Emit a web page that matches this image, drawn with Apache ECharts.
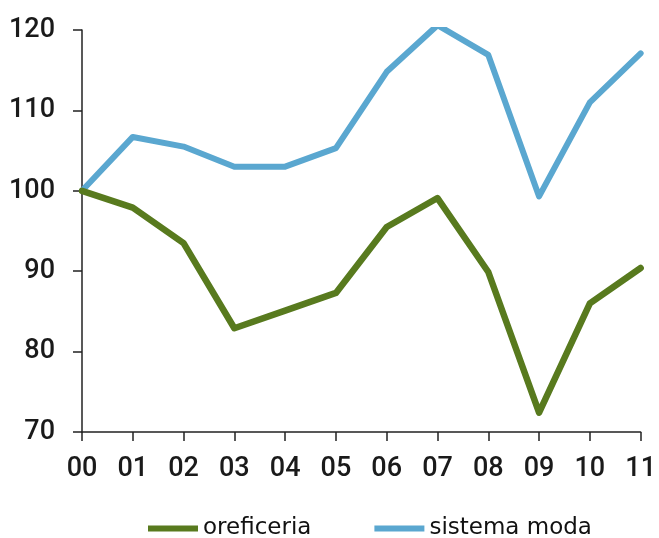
<!DOCTYPE html>
<html>
<head>
<meta charset="utf-8">
<script src="https://cdn.jsdelivr.net/npm/echarts@6/dist/echarts.min.js"></script>
<style>
  html, body { margin: 0; padding: 0; background: #ffffff; overflow: hidden; }
  #chart { width: 659px; height: 538px; }
</style>
</head>
<body>
<div id="chart"></div>
<script>
// Years (2000–2011) shown as two-digit labels
const years = ['00', '01', '02', '03', '04', '05', '06', '07', '08', '09', '10', '11'];

// Index values, 2000 = 100
const oreficeria = [100, 97.9, 93.5, 82.9, 85.1, 87.3, 95.5, 99.1, 89.9, 72.4, 86.0, 90.4];
const sistemaModa = [100, 106.7, 105.5, 103.0, 103.0, 105.3, 114.8, 120.6, 116.9, 99.3, 111.0, 117.1];

// Value-axis range
const yMin = 70;
const yMax = 120;
const yStep = 10;

const axisColor = '#222222';
const labelFont = 'Roboto, "DejaVu Sans", sans-serif';

const chart = echarts.init(document.getElementById('chart'), null, { renderer: 'canvas', width: 659, height: 538 });

chart.setOption({
  backgroundColor: '#ffffff',
  animation: false,
  grid: { left: 82, right: 12, top: 30, bottom: 106, containLabel: false },
  legend: {
    data: ['oreficeria', 'sistema moda'],
    left: 148,
    top: 517,
    padding: 0,
    icon: 'rect',
    itemWidth: 50,
    itemHeight: 6,
    itemGap: 63,
    textStyle: {
      fontFamily: '"DejaVu Sans", sans-serif',
      fontSize: 23,
      color: '#111111'
    }
  },
  xAxis: {
    type: 'category',
    data: years,
    boundaryGap: false,
    axisLine: { show: true, lineStyle: { color: axisColor, width: 1.5 } },
    axisTick: { show: true, alignWithLabel: true, length: 9, lineStyle: { color: axisColor, width: 1.5 } },
    axisLabel: {
      margin: 24,
      fontFamily: labelFont,
      fontSize: 27,
      fontWeight: 500,
      color: '#1a1a1a'
    },
    splitLine: { show: false }
  },
  yAxis: {
    type: 'value',
    min: yMin,
    max: yMax,
    interval: yStep,
    axisLine: { show: true, lineStyle: { color: axisColor, width: 1.5 } },
    axisTick: { show: true, length: 9, lineStyle: { color: axisColor, width: 1.5 } },
    axisLabel: {
      margin: 27,
      fontFamily: labelFont,
      fontSize: 27,
      fontWeight: 500,
      color: '#1a1a1a'
    },
    splitLine: { show: false }
  },
  series: [
    {
      name: 'oreficeria',
      type: 'line',
      data: oreficeria,
      showSymbol: false,
      symbol: 'none',
      color: '#587a1e',
      lineStyle: { color: '#587a1e', width: 6.5, cap: 'round', join: 'round' },
      z: 3
    },
    {
      name: 'sistema moda',
      type: 'line',
      data: sistemaModa,
      showSymbol: false,
      symbol: 'none',
      color: '#5aa7d0',
      lineStyle: { color: '#5aa7d0', width: 6, cap: 'round', join: 'round' },
      z: 2
    }
  ]
});
</script>
</body>
</html>
